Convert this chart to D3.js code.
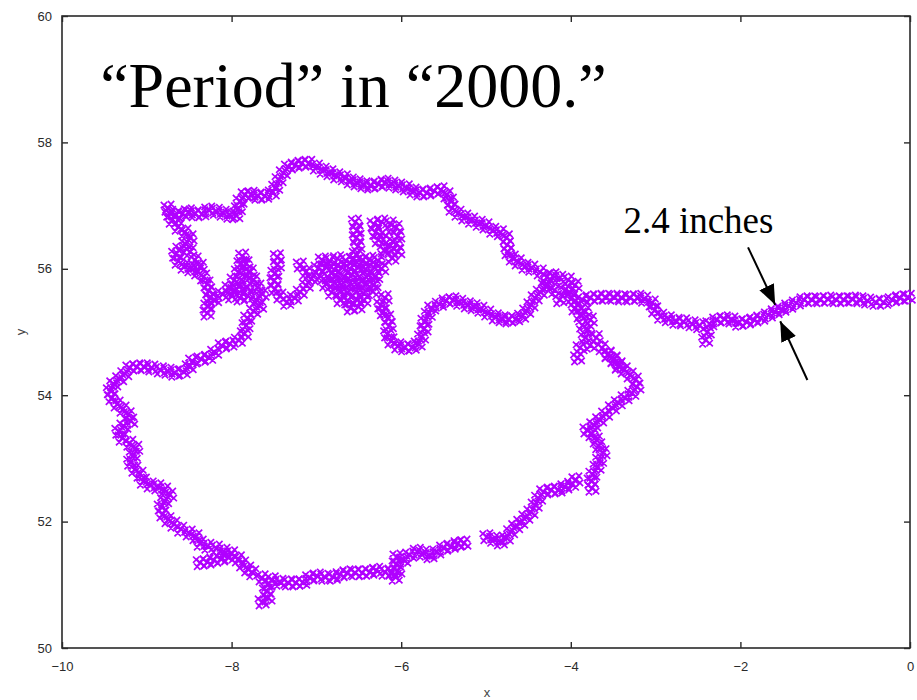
<!DOCTYPE html>
<html>
<head>
<meta charset="utf-8">
<script src="https://cdn.jsdelivr.net/npm/d3@7"></script>
<style>
  body { margin: 0; background: #fff; }
  svg { display: block; }
</style>
</head>
<body>
<svg id="chart" width="917" height="700"></svg>
<script>
// ---------- DATA (in data units) ----------
const xTicks = [-10, -8, -6, -4, -2, 0];
const yTicks = [50, 52, 54, 56, 58, 60];
const xLabel = "x";
const yLabel = "y";
const titleText = "\u201CPeriod\u201D in \u201C2000.\u201D";
const noteText = "2.4 inches";

// tail running in from the right edge
const tailPts = [
  [-0.02,55.55],[-0.12,55.54],[-0.21,55.51],[-0.31,55.47],[-0.40,55.47],[-0.50,55.49],
  [-0.59,55.51],[-0.68,55.52],[-0.78,55.51],[-0.87,55.51],[-0.97,55.52],[-1.06,55.51],
  [-1.16,55.51],[-1.25,55.51],[-1.34,55.46],[-1.43,55.41],[-1.51,55.36],[-1.59,55.32],
  [-1.67,55.27],[-1.76,55.22],[-1.84,55.19],[-1.93,55.16],[-2.02,55.14],[-2.10,55.19],
  [-2.19,55.21],[-2.28,55.19],[-2.36,55.13],[-2.39,55.00],[-2.41,54.87],[-2.48,55.10],
  [-2.57,55.13],[-2.67,55.16],[-2.76,55.17],[-2.85,55.21],[-2.94,55.25],[-3.01,55.35],
  [-3.04,55.46],[-3.13,55.52],[-3.21,55.55],[-3.30,55.54],[-3.40,55.54],[-3.49,55.55],
  [-3.59,55.55],[-3.68,55.55],[-3.77,55.54],[-3.86,55.51]
];

// dense knot where the tail meets the loops
const knotPts = [
  [-3.95,55.74],[-4.03,55.82],[-4.13,55.85],[-4.21,55.89],[-4.07,55.66],[-3.99,55.54],
  [-3.92,55.43],[-3.83,55.32],[-3.77,55.19],[-3.80,55.03],[-3.83,54.91],[-3.89,54.75],
  [-3.92,54.59],[-3.77,54.79],[-3.70,54.91],[-3.63,54.75],[-3.56,54.64],[-3.49,54.56],
  [-3.44,54.46],[-4.19,55.66],[-4.27,55.74],[-4.13,55.51],[-4.01,55.63],[-3.89,55.27],
  [-3.95,55.38],[-3.86,55.11]
];

// upper arc, from the knot back to the top-left corner
const upperArcPts = [
  [-4.28,55.87],[-4.36,55.95],[-4.46,56.01],[-4.54,56.04],[-4.62,56.11],[-4.69,56.17],
  [-4.74,56.27],[-4.75,56.38],[-4.76,56.49],[-4.83,56.57],[-4.92,56.61],[-5.00,56.68],
  [-5.08,56.72],[-5.17,56.77],[-5.25,56.82],[-5.33,56.88],[-5.40,56.96],[-5.42,57.07],
  [-5.46,57.17],[-5.53,57.25],[-5.61,57.23],[-5.70,57.20],[-5.78,57.20],[-5.86,57.23],
  [-5.94,57.28],[-6.03,57.31],[-6.11,57.34],[-6.19,57.37],[-6.27,57.34],[-6.36,57.31],
  [-6.44,57.33],[-6.52,57.36],[-6.60,57.39],[-6.67,57.44],[-6.76,57.47],[-6.84,57.52],
  [-6.92,57.56],[-7.00,57.61],[-7.09,57.67],[-7.17,57.67],[-7.25,57.64],[-7.33,57.61],
  [-7.39,57.52],[-7.44,57.41],[-7.48,57.29],[-7.52,57.20],[-7.61,57.15],[-7.69,57.15],
  [-7.77,57.18],[-7.84,57.17],[-7.90,57.07],[-7.92,56.95],[-7.95,56.84],[-8.02,56.85],
  [-8.10,56.88],[-8.18,56.91],[-8.27,56.93],[-8.35,56.87],[-8.43,56.87],[-8.51,56.90],
  [-8.58,56.87],[-8.66,56.84],[-8.73,56.88],[-8.75,56.96]
];

// left side of the upper loop, coming down
const leftSidePts = [
  [-8.70,56.77],[-8.63,56.66],[-8.55,56.58],[-8.49,56.49],[-8.54,56.39],[-8.61,56.31],
  [-8.66,56.23],[-8.63,56.12],[-8.56,56.04],[-8.48,56.00],[-8.40,55.95],[-8.33,55.87],
  [-8.29,55.76],[-8.27,55.65],[-8.25,55.54],[-8.28,55.41],[-8.29,55.30],[-8.43,56.14],
  [-8.37,56.04],[-8.49,56.27]
];

// triangular clump and the link down to the lower loop
const clumpPts = [
  [-8.20,55.51],[-8.11,55.60],[-8.03,55.70],[-7.97,55.82],[-7.92,55.95],[-7.89,56.08],
  [-7.87,56.20],[-7.83,56.08],[-7.78,55.95],[-7.74,55.82],[-7.69,55.71],[-7.64,55.60],
  [-8.00,55.57],[-7.90,55.54],[-7.81,55.57],[-7.71,55.51],[-7.67,55.41],[-7.74,55.33],
  [-7.81,55.22],[-7.83,55.10],[-7.85,54.97],[-7.92,54.87],[-8.02,54.81],[-8.11,54.78],
  [-7.90,55.74],[-7.82,55.71],[-7.96,55.66],[-7.84,55.89]
];

// W-shaped stroke between the clump and the big tangle
const strokePts = [
  [-7.46,56.19],[-7.46,56.06],[-7.49,55.93],[-7.50,55.81],[-7.49,55.68],[-7.43,55.57],
  [-7.35,55.47],[-7.26,55.54],[-7.19,55.63],[-7.12,55.74],[-7.06,55.84],[-7.12,55.95],
  [-7.19,56.06]
];

// the big tangle around x = -6.5, y = 56
const tanglePts = [
  [-6.93,56.14],[-6.84,56.12],[-6.75,56.16],[-6.65,56.13],[-6.56,56.15],[-6.46,56.12],[-6.37,56.15],[-6.27,56.13],
  [-6.98,56.01],[-6.89,56.03],[-6.79,55.99],[-6.70,56.02],[-6.60,56.00],[-6.51,56.03],[-6.42,55.99],[-6.32,56.02],[-6.23,56.00],
  [-6.96,55.89],[-6.86,55.87],[-6.77,55.90],[-6.67,55.88],[-6.58,55.91],[-6.49,55.87],[-6.39,55.90],[-6.30,55.88],
  [-6.89,55.76],[-6.79,55.78],[-6.70,55.75],[-6.60,55.77],[-6.51,55.74],[-6.42,55.77],[-6.32,55.75],
  [-6.82,55.63],[-6.72,55.65],[-6.63,55.62],[-6.53,55.64],[-6.44,55.61],[-6.34,55.64],
  [-6.72,55.51],[-6.63,55.49],[-6.53,55.52],[-6.44,55.50],
  [-6.60,55.38],[-6.51,55.40],
  [-6.54,56.74],[-6.52,56.61],[-6.53,56.49],[-6.51,56.36],[-6.53,56.23],
  [-6.32,56.71],[-6.23,56.74],[-6.13,56.71],[-6.06,56.65],[-6.04,56.52],[-6.06,56.39],
  [-6.04,56.27],[-6.11,56.17],[-6.20,56.30],[-6.27,56.46],[-6.30,56.58],[-6.18,56.52],
  [-6.13,56.36]
];

// S-shaped inner branch from the tangle back to the knot
const innerPts = [
  [-6.19,55.54],[-6.24,55.43],[-6.21,55.32],[-6.16,55.22],[-6.14,55.10],[-6.16,54.97],
  [-6.12,54.86],[-6.04,54.78],[-5.96,54.75],[-5.87,54.76],[-5.80,54.81],[-5.76,54.92],
  [-5.73,55.05],[-5.72,55.17],[-5.68,55.28],[-5.64,55.38],[-5.55,55.44],[-5.47,55.49],
  [-5.39,55.51],[-5.31,55.47],[-5.22,55.43],[-5.14,55.40],[-5.06,55.36],[-4.98,55.30],
  [-4.89,55.24],[-4.81,55.21],[-4.73,55.19],[-4.65,55.21],[-4.58,55.25],[-4.52,55.33],
  [-4.47,55.43],[-4.42,55.54],[-4.36,55.63],[-4.30,55.73]
];

// the large lower loop
const lowerLoopPts = [
  [-8.20,54.68],[-8.27,54.60],[-8.36,54.57],[-8.46,54.54],[-8.50,54.45],[-8.57,54.37],
  [-8.67,54.35],[-8.75,54.38],[-8.84,54.40],[-8.94,54.43],[-9.03,54.45],[-9.12,54.45],
  [-9.20,54.43],[-9.26,54.34],[-9.32,54.26],[-9.39,54.18],[-9.43,54.07],[-9.41,53.96],
  [-9.35,53.86],[-9.28,53.78],[-9.22,53.69],[-9.19,53.59],[-9.27,53.51],[-9.33,53.43],
  [-9.29,53.32],[-9.20,53.24],[-9.13,53.16],[-9.16,53.05],[-9.19,52.94],[-9.14,52.83],
  [-9.08,52.75],[-9.04,52.64],[-8.96,52.58],[-8.87,52.55],[-8.79,52.50],[-8.73,52.42],
  [-8.79,52.33],[-8.83,52.23],[-8.81,52.12],[-8.75,52.03],[-8.68,51.96],[-8.60,51.88],
  [-8.50,51.82],[-8.42,51.76],[-8.37,51.66],[-8.28,51.61],[-8.18,51.58],[-8.09,51.53],
  [-8.00,51.49],[-7.92,51.41],[-7.87,51.33],[-7.81,51.25],[-7.75,51.19],
  [-8.37,51.35],[-8.29,51.36],[-8.21,51.39],[-8.13,51.41],[-8.04,51.44],
  [-7.64,51.11],[-7.57,51.01],[-7.59,50.90],[-7.57,50.79],[-7.64,50.73],[-7.52,51.08],
  [-7.43,51.04],[-7.33,51.03],[-7.24,51.03],[-7.16,51.04],[-7.08,51.11],[-6.99,51.14],
  [-6.90,51.12],[-6.80,51.12],[-6.72,51.16],[-6.64,51.19],[-6.54,51.19],[-6.46,51.19],
  [-6.37,51.20],[-6.29,51.23],[-6.19,51.20],[-6.11,51.20],[-6.06,51.33],[-6.05,51.44],
  [-6.07,51.12],[-6.04,51.22],[-5.97,51.39],[-5.90,51.47],[-5.81,51.53],[-5.74,51.50],
  [-5.66,51.46],[-5.58,51.52],[-5.50,51.58],[-5.41,51.61],[-5.33,51.65],[-5.26,51.66],
  [-4.99,51.76],[-4.91,51.72],[-4.83,51.68],[-4.76,51.74],[-4.71,51.84],[-4.65,51.92],
  [-4.59,51.99],[-4.53,52.07],[-4.47,52.15],[-4.42,52.26],[-4.38,52.37],[-4.32,52.47],
  [-4.23,52.50],[-4.15,52.50],[-4.07,52.55],[-3.99,52.59],[-3.94,52.66],
  [-3.75,52.53],[-3.76,52.64],[-3.74,52.75],[-3.69,52.86],[-3.66,52.97],[-3.62,53.09],
  [-3.67,53.20],[-3.70,53.29],[-3.75,53.39],[-3.81,53.45],[-3.73,53.53],[-3.66,53.61],
  [-3.59,53.70],[-3.51,53.80],[-3.44,53.88],[-3.36,53.96],[-3.28,54.03],[-3.22,54.13],
  [-3.24,54.24],[-3.30,54.32],[-3.37,54.40],[-3.43,54.48],[-3.49,54.57],[-3.56,54.65]
];

// annotation anchors (data units)
const titleAt = [-9.55, 58.56];
const noteAt = [-3.38, 56.57];
const arrowA = [[-1.91, 56.34], [-1.59, 55.43]];
const arrowB = [[-1.21, 54.24], [-1.53, 55.17]];

const seriesList = [tailPts, knotPts, upperArcPts, leftSidePts, clumpPts,
                    strokePts, tanglePts, innerPts, lowerLoopPts];

// ---------- DRAWING ----------
const W = 917, H = 700;
const margin = { left: 62, right: 7, top: 16, bottom: 52 };
const svg = d3.select("#chart");

const x = d3.scaleLinear().domain([-10, 0]).range([margin.left, W - margin.right]);
const y = d3.scaleLinear().domain([50, 60]).range([H - margin.bottom, margin.top]);

const tickFont = "'Liberation Sans', Arial, sans-serif";
const ink = "#2a2a2a";

// frame
svg.append("rect")
  .attr("x", x(-10)).attr("y", y(60))
  .attr("width", x(0) - x(-10)).attr("height", y(50) - y(60))
  .attr("fill", "none").attr("stroke", ink).attr("stroke-width", 1.6);

const tickLen = 6;
const fmt = d => (d < 0 ? "\u2212" + Math.abs(d) : String(d));

const xAxisB = d3.axisBottom(x).tickValues(xTicks).tickSize(-tickLen).tickPadding(14).tickFormat(fmt);
const gB = svg.append("g").attr("transform", `translate(0,${y(50)})`).call(xAxisB);
const xAxisT = d3.axisTop(x).tickValues(xTicks).tickSize(-tickLen).tickFormat("");
const gT = svg.append("g").attr("transform", `translate(0,${y(60)})`).call(xAxisT);
const yAxisL = d3.axisLeft(y).tickValues(yTicks).tickSize(-tickLen).tickPadding(10).tickFormat(fmt);
const gL = svg.append("g").attr("transform", `translate(${x(-10)},0)`).call(yAxisL);
const yAxisR = d3.axisRight(y).tickValues(yTicks).tickSize(-tickLen).tickFormat("");
const gR = svg.append("g").attr("transform", `translate(${x(0)},0)`).call(yAxisR);

[gB, gT, gL, gR].forEach(g => {
  g.select(".domain").remove();
  g.selectAll(".tick line").attr("stroke", ink).attr("stroke-width", 1.4);
  g.selectAll(".tick text").attr("fill", ink).style("font-family", tickFont).style("font-size", "13px");
});

svg.append("text").attr("x", (x(-10) + x(0)) / 2 + 1).attr("y", 697)
  .attr("text-anchor", "middle").attr("fill", "#444")
  .style("font-family", tickFont).style("font-size", "13px").text(xLabel);
svg.append("text").attr("transform", `translate(25,${(y(50) + y(60)) / 2}) rotate(-90)`)
  .attr("text-anchor", "middle").attr("fill", "#444")
  .style("font-family", tickFont).style("font-size", "13px").text(yLabel);

// points: each sample drawn as a small clump of gnuplot-style X markers
const clumpOffsets = [[0,0,4.2],[-4,-3,3.2],[4,3,3.2],[-3,4,3.2],[3,-4,3.2]];
const glyph = clumpOffsets.map(([dx, dy, h]) =>
  `M${dx - h},${dy - h}L${dx + h},${dy + h}M${dx - h},${dy + h}L${dx + h},${dy - h}`).join("");
const plot = svg.append("g");
seriesList.forEach(pts => {
  plot.selectAll(null).data(pts).enter().append("path")
    .attr("d", glyph)
    .attr("transform", d => `translate(${x(d[0])},${y(d[1])})`)
    .attr("fill", "none").attr("stroke", "#b000ff").attr("stroke-width", 1.7);
});

svg.append("text").attr("x", x(titleAt[0])).attr("y", y(titleAt[1]))
  .style("font-family", "'Liberation Serif', 'Times New Roman', serif")
  .style("font-size", "64px").attr("fill", "#000").text(titleText);

svg.append("text").attr("x", x(noteAt[0])).attr("y", y(noteAt[1]))
  .style("font-family", "'Liberation Serif', 'Times New Roman', serif")
  .style("font-size", "37px").attr("fill", "#000").text(noteText);

const defs = svg.append("defs");
defs.append("marker").attr("id", "head")
  .attr("viewBox", "0 0 10 10").attr("refX", 10).attr("refY", 5)
  .attr("markerWidth", 20).attr("markerHeight", 20).attr("markerUnits", "userSpaceOnUse")
  .attr("orient", "auto")
  .append("path").attr("d", "M0,1L10,5L0,9Z").attr("fill", "#000");

[arrowA, arrowB].forEach(a => {
  svg.append("line")
    .attr("x1", x(a[0][0])).attr("y1", y(a[0][1]))
    .attr("x2", x(a[1][0])).attr("y2", y(a[1][1]))
    .attr("stroke", "#000").attr("stroke-width", 2)
    .attr("marker-end", "url(#head)");
});
</script>
</body>
</html>
